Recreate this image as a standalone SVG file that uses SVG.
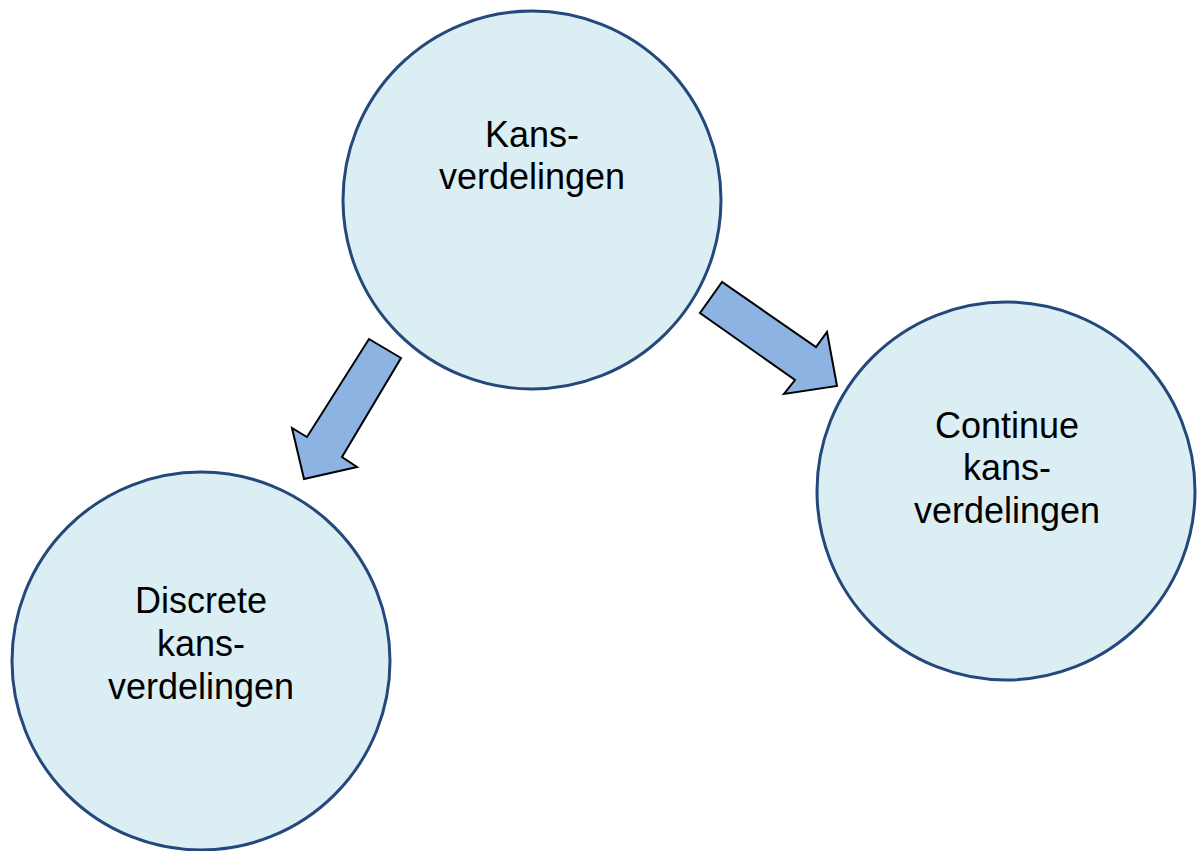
<svg xmlns="http://www.w3.org/2000/svg" width="1199" height="851" viewBox="0 0 1199 851">
<style>
.node circle{fill:#DAEEF3;stroke:#24487C;stroke-width:3}
.node text{font-family:"Liberation Sans",Arial,sans-serif;font-size:36px;fill:#000;text-anchor:middle}
.arrow{fill:#8DB3E2;stroke:#000;stroke-width:2;stroke-linejoin:miter}
</style>
<rect width="1199" height="851" fill="#fff"/>
<g id="connectors">
<polygon class="arrow" points="369,339 401,358 342,457 357,467 304,479 292,428 307,437"/>
<polygon class="arrow" points="722,282 700,313 795,380 784,394 837,386 827,332 816,347"/>
</g>
<g id="node-kansverdelingen" class="node">
<circle cx="532" cy="200" r="189"/>
<text x="532" y="147">Kans-</text>
<text x="532" y="189">verdelingen</text>
</g>
<g id="node-discrete" class="node">
<circle cx="201" cy="661" r="189"/>
<text x="201" y="613">Discrete</text>
<text x="201" y="656">kans-</text>
<text x="201" y="699">verdelingen</text>
</g>
<g id="node-continue" class="node">
<circle cx="1006" cy="491" r="189"/>
<text x="1007" y="438">Continue</text>
<text x="1007" y="480">kans-</text>
<text x="1007" y="523">verdelingen</text>
</g>
</svg>
